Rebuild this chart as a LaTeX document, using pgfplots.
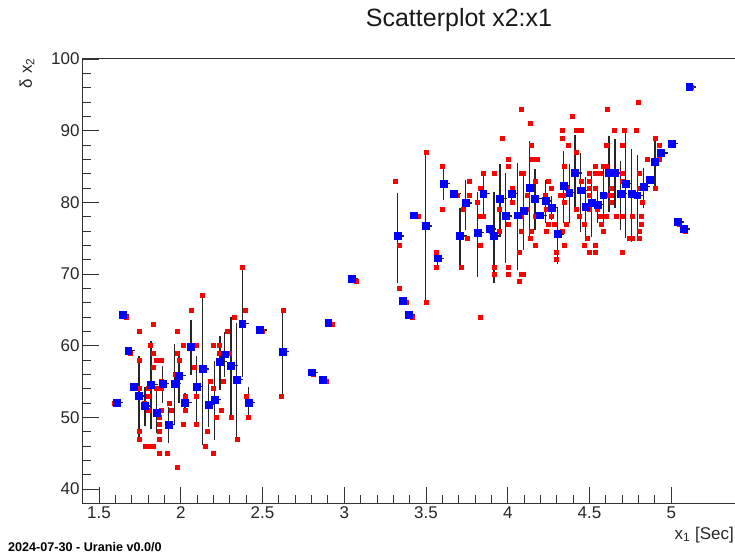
\documentclass[border=0pt]{standalone}
\usepackage{fontspec}
\setmainfont{Liberation Sans}
\usepackage{pgfplots}
\pgfplotsset{compat=1.18}
\usepackage{pgfplotstable}

\pgfplotstableread{
x y ep em
1.608 52.1 0 0
1.643 64.3 0 0
1.679 59.3 0 0
1.710 54.3 0 0
1.745 53.0 5.5 5.9
1.781 51.6 2.7 2.8
1.818 54.6 6.0 6.2
1.853 50.7 3.6 2.9
1.890 54.75 2.35 2.75
1.924 49.0 2.5 2.6
1.961 54.75 5.55 5.85
1.989 55.8 3.4 3.8
2.026 52.1 1.3 1.1
2.063 59.9 3.7 4.0
2.098 54.3 4.2 4.9
2.134 56.75 10.55 10.65
2.171 51.8 2.95 3.1
2.208 52.5 5.3 5.7
2.240 57.8 3.55 4.0
2.269 58.8 3.15 3.1
2.307 57.2 6.8 7.1
2.342 55.3 7.8 8.2
2.376 63.1 7.5 7.4
2.416 52.1 2.2 2.0
2.485 62.2 0 0
2.624 59.2 5.9 6.1
2.801 56.3 0 0
2.866 55.3 0 0
2.902 63.2 0 0
3.046 69.3 0 0
3.327 75.3 6.0 6.5
3.355 66.3 0 0
3.392 64.3 0 0
3.427 78.2 0 0
3.498 76.7 10.5 10.65
3.572 72.2 0.8 1.2
3.606 82.65 1.95 2.35
3.671 81.2 0 0
3.708 75.3 3.9 4.3
3.743 79.9 3.2 3.7
3.814 75.8 5.7 6.2
3.850 81.2 2.85 3.1
3.887 76.3 0 0
3.916 75.3 6.2 6.6
3.953 80.5 4.9 5.3
3.987 78.1 5.95 6.5
4.024 81.2 1.0 1.2
4.061 78.2 7.3 7.6
4.095 78.8 5.25 5.45
4.132 82.0 6.55 6.8
4.167 80.5 4.15 4.3
4.197 78.2 0 0
4.232 80.2 2.9 3.1
4.269 79.25 1.65 1.75
4.305 75.6 3.8 4.25
4.340 82.3 4.9 5.2
4.376 81.35 3.95 4.2
4.411 84.1 5.3 5.4
4.446 81.7 5.2 5.8
4.477 79.4 4.2 4.2
4.513 79.9 4.5 4.8
4.550 79.7 2.5 2.6
4.584 81.0 4.1 4.4
4.619 84.1 5.15 5.4
4.656 84.1 4.8 4.9
4.691 81.2 4.6 5.1
4.721 82.65 7.45 7.65
4.758 81.2 6.3 6.7
4.792 81.0 5.6 6.0
4.829 82.2 2.55 3.0
4.866 83.2 0 0
4.901 85.7 3.5 3.7
4.937 86.9 0.6 1.2
5.003 88.2 0 0
5.037 77.25 0 0
5.074 76.3 0 0
5.110 96.1 0 0
}\bluedata

\pgfplotstableread{
x y
2.377 71
2.397 65
2.326 64
2.061 65
2.132 67
1.832 63
1.745 62
1.981 62
1.667 64
2.285 62
2.299 59
2.260 59
2.236 60
2.199 60
2.236 59
2.012 60
2.097 60
1.981 59
1.991 58
1.814 60
1.830 59
1.745 58
1.847 58
1.881 58
1.832 57
2.083 57
2.260 55
1.883 55
2.183 55
1.967 56
1.997 56
1.747 54
1.798 54
1.847 54
1.883 54
2.199 54
2.095 53
2.030 53
1.798 53
2.399 53
1.777 52
1.932 52
1.798 51
1.881 51
1.942 51
2.030 51
2.248 51
1.869 50
2.214 50
2.311 50
2.413 50
1.869 49
2.012 49
2.097 49
1.745 48
1.869 48
2.163 48
1.745 47
1.869 47
2.348 47
1.781 46
1.816 46
1.832 46
2.148 46
1.869 45
1.918 45
2.199 45
1.981 43
1.590 52
1.690 59
1.720 54
2.495 62
2.810 56
2.629 65
2.617 53
3.498 87
3.500 66
3.600 85
3.600 79
3.312 83
3.333 74
3.333 68
3.565 73
3.565 71
3.453 78
3.418 64
3.378 66
3.072 69
2.927 63
2.888 55
4.081 93
3.967 89
3.763 83
3.763 81
3.728 79
3.751 75
3.714 71
3.851 84
3.830 82
3.814 80
3.830 74
3.851 78
3.830 78
3.830 64
3.916 84
3.950 79
3.950 76
3.916 71
3.916 70
4.004 86
4.004 85
4.030 82
4.030 80
4.004 77
4.004 71
4.004 70
4.081 84
4.095 84
4.116 81
4.116 79
4.081 78
4.081 76
4.067 73
4.067 69
4.085 70
4.095 70
4.146 88
4.139 75
4.232 79
3.690 81
3.900 76
5.013 88
5.047 77
5.084 76
5.120 96
4.799 94
4.611 93
4.397 92
4.136 91
4.334 90
4.419 90
4.448 90
4.650 90
4.715 90
4.786 90
4.334 89
4.901 89
4.370 88
4.601 88
4.699 88
4.927 88
4.419 87
4.850 86
4.150 86
4.181 86
4.927 86
4.348 85
4.536 85
4.585 85
4.601 85
4.499 84
4.536 84
4.564 84
4.699 84
4.801 84
4.246 83
4.446 83
4.499 83
4.699 83
4.165 83
4.268 82
4.366 82
4.499 82
4.536 82
4.633 82
4.801 82
4.901 82
4.228 81
4.322 81
4.336 81
4.499 81
4.601 81
4.633 81
4.699 81
4.348 80
4.633 80
4.825 80
4.417 79
4.499 79
4.548 79
4.434 78
4.165 78
4.266 78
4.564 78
4.601 78
4.662 78
4.699 78
4.764 78
4.815 78
4.246 77
4.283 77
4.360 77
4.468 77
4.572 77
4.815 77
4.146 76
4.232 76
4.334 76
4.585 76
4.801 76
4.485 75
4.744 75
4.758 75
4.801 75
4.165 74
4.348 74
4.470 74
4.536 74
4.297 73
4.499 73
4.536 73
4.699 73
4.297 72
}\reddata

\begin{document}
\begin{tikzpicture}
\begin{axis}[
  scale only axis, width=654pt, height=444pt,
  xmin=1.402, xmax=5.402, ymin=38.05, ymax=100,
  xtick={1.5,2,...,5}, ytick={40,50,...,100},
  minor x tick num=4, minor y tick num=4,
  tick align=inside, tick pos=left,
  major tick length=16pt, minor tick length=8pt,
  every tick/.style={black!80, line width=0.9pt},
  axis line style={black!80, line width=1pt},
  /pgf/number format/assume math mode=true,
  ticklabel style={font=\fontsize{17}{20}\selectfont, text=black!85},
]
\addplot[only marks, mark=square*, mark size=2pt, color=red,
  mark options={draw=none, fill=red}] table[x=x, y=y] {\reddata};
\addplot[only marks, mark=square*, mark size=3.4pt, color=blue,
  mark options={draw=none, fill=blue},
  error bars/.cd, y dir=both, y explicit, x dir=plus, x fixed=0.04,
  error mark=none, error bar style={black!85, line width=1.3pt}]
  table[x=x, y=y, y error plus=ep, y error minus=em] {\bluedata};
\end{axis}
\node[font=\fontsize{25}{30}\selectfont, text=black!90] at (376pt,483pt) {Scatterplot x2:x1};
\node[rotate=90, anchor=east, font=\fontsize{17}{20}\selectfont, text=black!85, inner sep=0pt] at (-56pt,445pt) {δ x\textsubscript{2}};
\node[anchor=east, font=\fontsize{17}{20}\selectfont, text=black!85, inner sep=0pt] at (651pt,-32pt) {x\textsubscript{1} [Sec]};
\node[anchor=west, font=\fontsize{12.6}{15}\selectfont\bfseries, inner sep=0pt] at (-75pt,-44pt) {2024-07-30 - Uranie v0.0/0};
\pgfresetboundingbox
\path[use as bounding box] (-83pt,-52pt) rectangle (652pt,503pt);
\end{tikzpicture}
\end{document}
